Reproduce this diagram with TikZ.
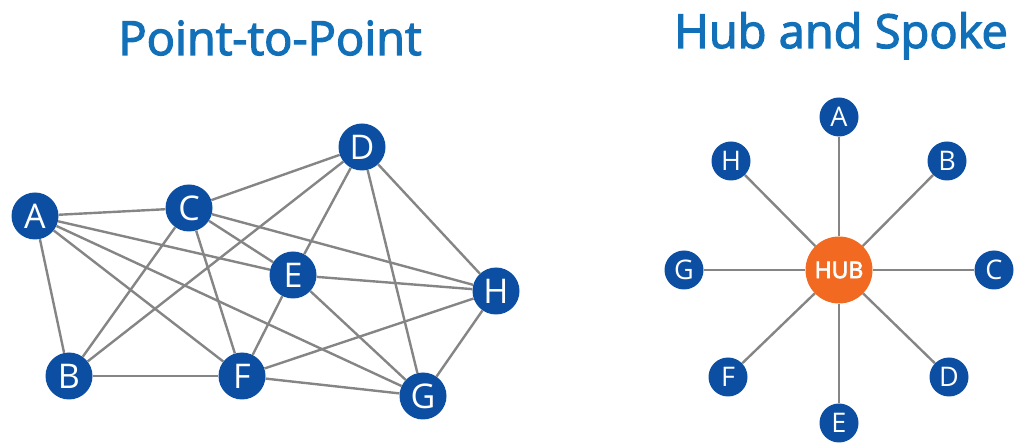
\documentclass[tikz,border=0pt]{standalone}
\usepackage{fontspec}
\setmainfont{Open Sans}
\newfontfamily\headfont[FakeBold=2.6]{Open Sans}
\newfontfamily\hubfont[FakeBold=3]{Open Sans}
\definecolor{titleblue}{HTML}{1170B8}
\definecolor{nodeblue}{HTML}{0B4EA2}
\definecolor{hubor}{HTML}{F26A21}
\definecolor{edgegray}{HTML}{858585}
\tikzset{
  heading/.style={anchor=base, text=titleblue, font=\headfont\fontsize{47}{47}\selectfont},
  pnode/.style={circle, fill=nodeblue, text=white, minimum size=47pt, inner sep=0pt,
    font=\fontsize{34}{34}\selectfont},
  snode/.style={circle, fill=nodeblue, text=white, minimum size=39pt, inner sep=0pt,
    font=\fontsize{27}{27}\selectfont},
  hubnode/.style={circle, fill=hubor, text=white, minimum size=67pt, inner sep=0pt,
    font=\hubfont\fontsize{23}{23}\selectfont},
  link/.style={draw=edgegray, line width=2.4pt},
}
\begin{document}
\begin{tikzpicture}[x=1pt,y=-1pt]
\useasboundingbox (0,0) rectangle (1018,443);

% titles
\node[heading] (t1) at (270,55) {Point-to-Point};
\node[heading] (t2) at (841,48) {Hub and Spoke};

% point-to-point mesh
\node[pnode] (pA) at (35,216) {A};
\node[pnode] (pB) at (69,376) {B};
\node[pnode] (pC) at (189,208) {C};
\node[pnode] (pD) at (362,147) {D};
\node[pnode] (pE) at (293,275) {E};
\node[pnode] (pF) at (242,376) {F};
\node[pnode] (pG) at (423,396) {G};
\node[pnode] (pH) at (496,291) {H};

\foreach \a/\b in {A/C, A/B, A/E, A/F, A/G,
                   C/D, C/E, C/H, C/B, C/F,
                   D/E, D/B, D/G, D/H,
                   E/H, E/F, E/G,
                   H/F, H/G, F/B, F/G}
  \draw[link] (p\a) -- (p\b);

% hub and spoke
\node[hubnode] (hub) at (839,270) {HUB};
\node[snode] (sA) at (839,117) {A};
\node[snode] (sB) at (947,161) {B};
\node[snode] (sC) at (994,270) {C};
\node[snode] (sD) at (949,377) {D};
\node[snode] (sE) at (839,423) {E};
\node[snode] (sF) at (728,377) {F};
\node[snode] (sG) at (684,270) {G};
\node[snode] (sH) at (731,161) {H};

\foreach \s in {A,B,C,D,E,F,G,H}
  \draw[link] (hub) -- (s\s);
\end{tikzpicture}
\end{document}
